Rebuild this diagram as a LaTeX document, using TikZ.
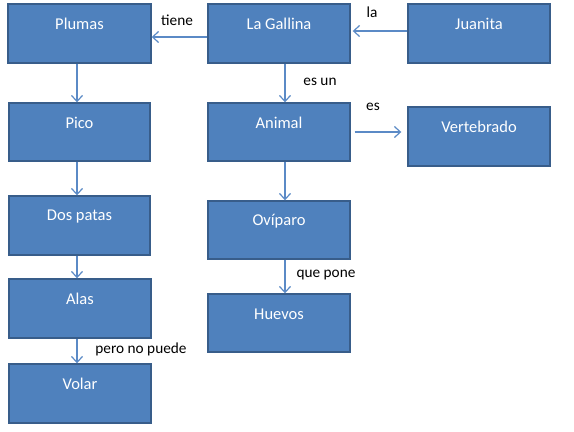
\documentclass[tikz,border=0pt]{standalone}
\usepackage{fontspec}
\setmainfont{Carlito}
\usetikzlibrary{arrows.meta}
\definecolor{boxfill}{HTML}{4F81BD}
\definecolor{boxline}{HTML}{385D8A}
\definecolor{arrcol}{HTML}{5B8AC6}
\tikzset{
  cbox/.style={draw=boxline, fill=boxfill, line width=1.4bp, minimum width=142bp, minimum height=58bp, inner sep=0pt},
  btext/.style={text=white, font=\fontsize{16.5bp}{19bp}\selectfont, anchor=center, yshift=-21bp},
  arr/.style={draw=arrcol, line width=1.2bp, -{Straight Barb[length=6bp,width=11bp,line width=1.2bp]}},
  lbl/.style={font=\fontsize{15.3bp}{18bp}\selectfont, text=black, inner sep=0pt}
}
\begin{document}
\begin{tikzpicture}[x=1bp,y=-1bp]
\useasboundingbox (0,0) rectangle (574,431);
\fill[white] (0,0) rectangle (574,431);
% column coordinates
\coordinate (colL) at (77,0);
\coordinate (colM) at (285,0);
\coordinate (rowT) at (0,37);
\coordinate (rowJ) at (0,31);
\coordinate (rowA) at (0,132);
% boxes
\node[cbox, minimum width=143bp, minimum height=59bp, label={[btext]north:Plumas}] (plumas) at (79.5,33.5) {};
\node[cbox, minimum height=59bp, label={[btext]north:La Gallina}] (gallina) at (279,33.5) {};
\node[cbox, minimum height=59bp, label={[btext]north:Juanita}] (juanita) at (479,33.5) {};
\node[cbox, minimum width=141bp, label={[btext]north:Pico}] (pico) at (79.5,132) {};
\node[cbox, minimum width=141bp, minimum height=59bp, label={[btext]north:Dos patas}] (dospatas) at (79.5,225.5) {};
\node[cbox, minimum height=59bp, label={[btext]north:Alas}] (alas) at (80,308.5) {};
\node[cbox, minimum height=59bp, label={[btext]north:Volar}] (volar) at (80,393.5) {};
\node[cbox, label={[btext]north:Animal}] (animal) at (279,132) {};
\node[cbox, minimum height=59bp, label={[btext]north:Vertebrado}] (vertebrado) at (479,136.5) {};
\node[cbox, label={[btext]north:Ovíparo}] (oviparo) at (279,230) {};
\node[cbox, label={[btext]north:Huevos}] (huevos) at (279,323) {};
% connectors
\draw[arr] (gallina.west |- rowT) -- (plumas.east |- rowT);
\draw[arr] (juanita.west |- rowJ) -- ([xshift=2bp]gallina.east |- rowJ);
\draw[arr] (plumas.south -| colL) -- (pico.north -| colL);
\draw[arr] (pico.south -| colL) -- (dospatas.north -| colL);
\draw[arr] (dospatas.south -| colL) -- (alas.north -| colL);
\draw[arr] (alas.south -| colL) -- (volar.north -| colL);
\draw[arr] (gallina.south -| colM) -- (animal.north -| colM);
\draw[arr] ([xshift=4bp]animal.east |- rowA) -- ([xshift=-6bp]vertebrado.west |- rowA);
\draw[arr] (animal.south -| colM) -- (oviparo.north -| colM);
\draw[arr] (oviparo.south -| colM) -- (huevos.north -| colM);
% labels
\node[lbl] (ltiene) at (177,20) {tiene};
\node[lbl] (lla) at (372,12) {la};
\node[lbl] (lesun) at (320,82) {es un};
\node[lbl] (les) at (373,107) {es};
\node[lbl] (lquepone) at (326,275) {que pone};
\node[lbl] (lpero) at (141,349) {pero no puede};
\end{tikzpicture}
\end{document}
